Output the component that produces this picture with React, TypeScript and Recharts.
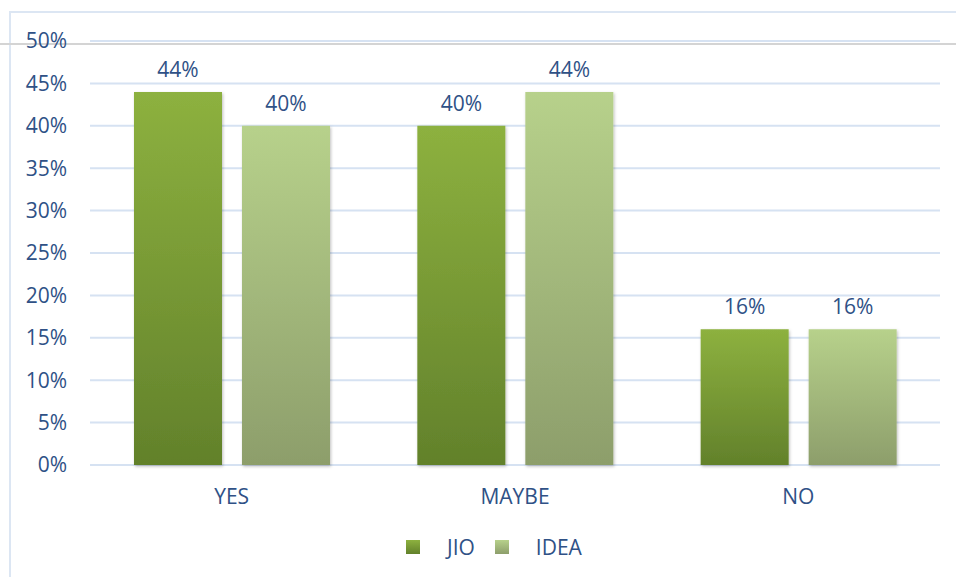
import { BarChart, Bar, XAxis, YAxis, CartesianGrid, LabelList } from 'recharts'

const categories = ['YES', 'MAYBE', 'NO']
const jioValues = [44, 40, 16]
const ideaValues = [40, 44, 16]
const yTicks = [0, 5, 10, 15, 20, 25, 30, 35, 40, 45, 50]

const data = categories.map((name, i) => ({ name, JIO: jioValues[i], IDEA: ideaValues[i] }))

const FONT = '"Open Sans", sans-serif'
const TEXT = '#2F5186'
const FS = 21

const legendItems = [
  { label: 'JIO', grad: 'linear-gradient(#8DB13F, #62812B)' },
  { label: 'IDEA', grad: 'linear-gradient(#B7D18B, #8D9E6B)' },
]

// legend drawn outside the chart so it doesn't eat plot height
function LegendBox() {
  return (
    <div style={{ position: 'absolute', left: 406, top: 533, display: 'flex', alignItems: 'center', fontFamily: FONT, fontSize: FS, color: TEXT }}>
      {legendItems.map((it, i) => (
        <div key={it.label} style={{ display: 'flex', alignItems: 'center', marginLeft: i ? 20 : 0 }}>
          <span style={{ width: 14, height: 14, background: it.grad, display: 'inline-block', marginRight: 27 }} />
          <span>{it.label}</span>
        </div>
      ))}
    </div>
  )
}

export default function App() {
  return (
    <div style={{ position: 'absolute', left: 0, top: 0, width: 956, height: 577, background: '#fff', overflow: 'hidden' }}>
      <div style={{ position: 'absolute', left: 9, top: 11, right: 0, height: 2, background: '#DCE6F3' }} />
      <div style={{ position: 'absolute', left: 9, top: 11, bottom: 0, width: 2, background: '#DCE6F3' }} />
      <div style={{ position: 'absolute', left: 0, top: 43, right: 0, height: 2, background: '#D4D4D4' }} />
      <div style={{ position: 'absolute', left: 0, top: 0 }}>
        <BarChart
          width={956}
          height={577}
          data={data}
          margin={{ top: 41, right: 16, bottom: 72, left: 0 }}
          barSize={88}
          barGap={20}
        >
          <defs>
            <linearGradient id="gJio" x1="0" y1="0" x2="0" y2="1">
              <stop offset="0%" stopColor="#8DB13F" />
              <stop offset="100%" stopColor="#62812B" />
            </linearGradient>
            <linearGradient id="gIdea" x1="0" y1="0" x2="0" y2="1">
              <stop offset="0%" stopColor="#B7D18B" />
              <stop offset="100%" stopColor="#8D9E6B" />
            </linearGradient>
            <filter id="shadow" x="-10%" y="-10%" width="120%" height="120%">
              <feDropShadow dx="1" dy="1.5" stdDeviation="1.5" floodColor="#000" floodOpacity="0.25" />
            </filter>
          </defs>
          <CartesianGrid vertical={false} stroke="#D6E2F2" strokeWidth={2} />
          <XAxis
            dataKey="name"
            axisLine={false}
            tickLine={false}
            height={40}
            tickMargin={18}
            tick={{ fill: TEXT, fontFamily: FONT, fontSize: FS }}
          />
          <YAxis
            domain={[0, 50]}
            ticks={yTicks}
            interval={0}
            width={90}
            axisLine={false}
            tickLine={false}
            tickMargin={17}
            tickFormatter={(v) => `${v}%`}
            tick={{ fill: TEXT, fontFamily: FONT, fontSize: FS }}
          />
          <Bar dataKey="JIO" fill="url(#gJio)" filter="url(#shadow)" isAnimationActive={false}>
            <LabelList dataKey="JIO" position="top" offset={15} formatter={(v: number) => `${v}%`} fill={TEXT} fontFamily={FONT} fontSize={FS} />
          </Bar>
          <Bar dataKey="IDEA" fill="url(#gIdea)" filter="url(#shadow)" isAnimationActive={false}>
            <LabelList dataKey="IDEA" position="top" offset={15} formatter={(v: number) => `${v}%`} fill={TEXT} fontFamily={FONT} fontSize={FS} />
          </Bar>
        </BarChart>
      </div>
      <LegendBox />
    </div>
  )
}
